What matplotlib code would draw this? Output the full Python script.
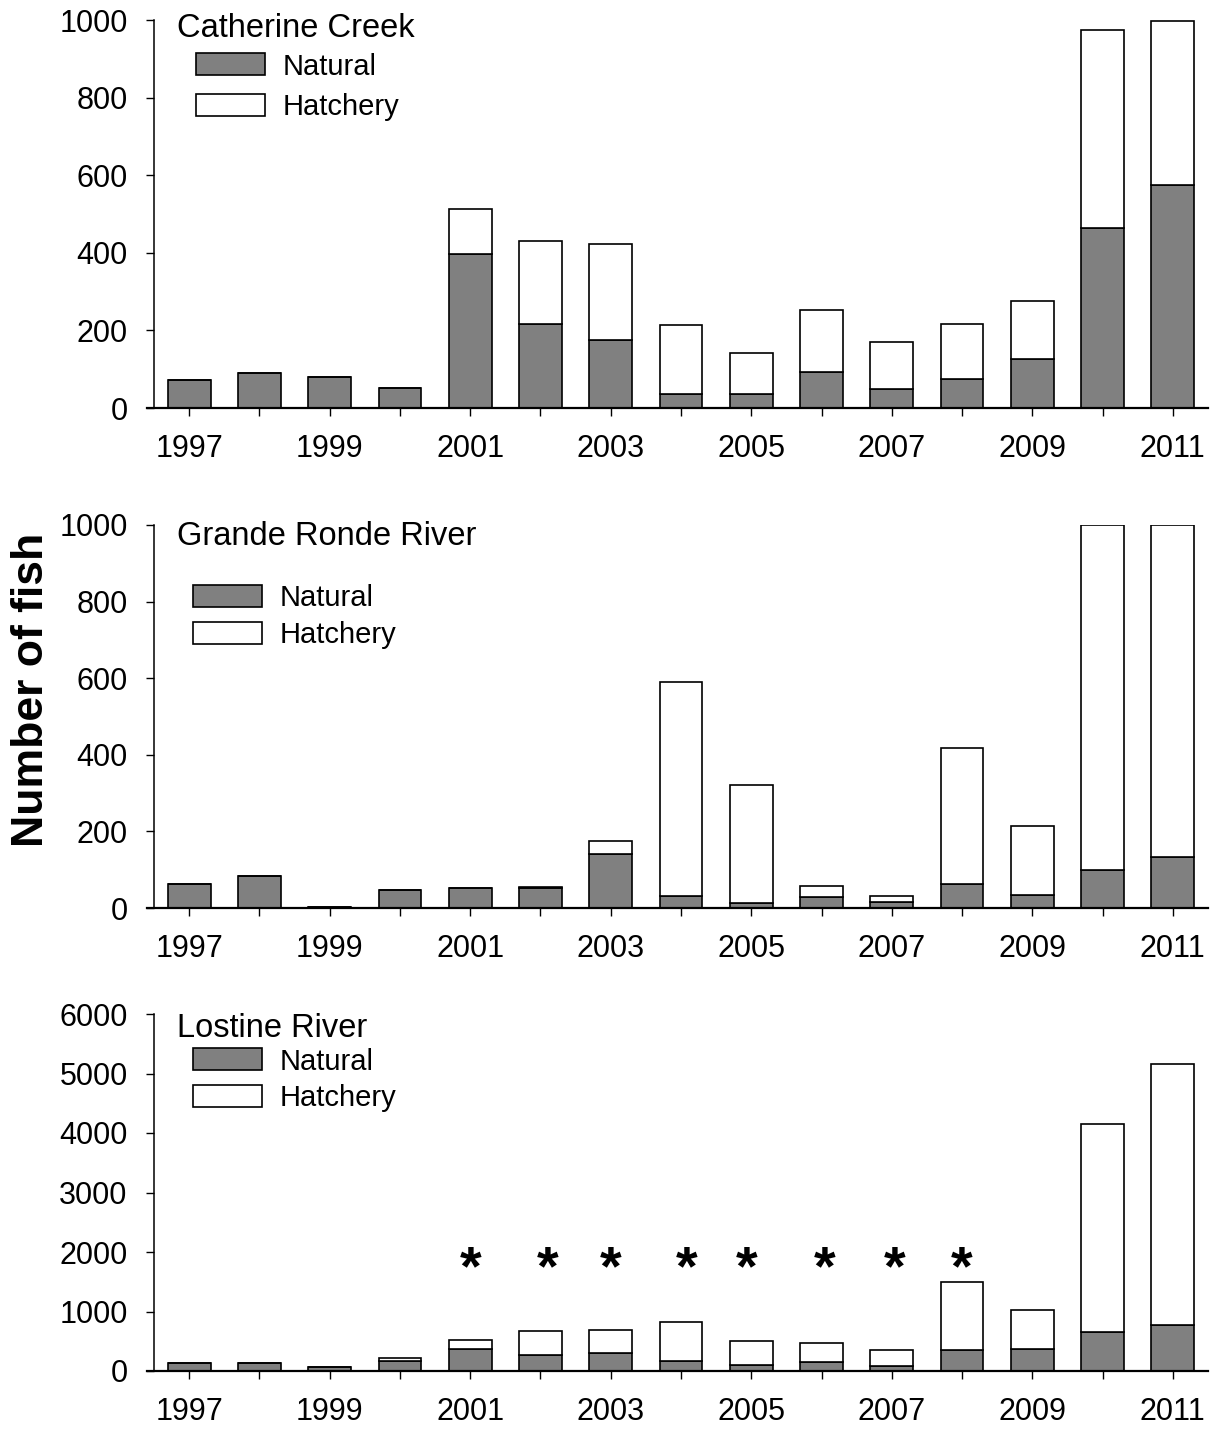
import matplotlib
matplotlib.use('Agg')
import matplotlib.pyplot as plt

plt.rcParams['font.family'] = ['Liberation Sans', 'DejaVu Sans']

years = [1997, 1998, 1999, 2000, 2001, 2002, 2003, 2004,
         2005, 2006, 2007, 2008, 2009, 2010, 2011]
tick_labels = ['1997', '', '1999', '', '2001', '', '2003', '',
               '2005', '', '2007', '', '2009', '', '2011']

# Catherine Creek
cc_natural = [72, 90, 80, 52, 398, 217, 175, 35, 35, 92, 49, 76, 126, 463, 576]
cc_hatchery = [0, 0, 0, 0, 115, 214, 247, 179, 108, 160, 121, 141, 149, 510, 422]

# Grande Ronde River
gr_natural = [63, 83, 3, 46, 51, 52, 141, 31, 14, 28, 15, 63, 33, 99, 134]
gr_hatchery = [0, 0, 0, 0, 0, 2, 35, 560, 306, 29, 16, 355, 181, 901, 866]

# Lostine River
lo_natural = [140, 140, 73, 168, 375, 263, 302, 168, 101, 151, 90, 353, 364, 655, 778]
lo_hatchery = [0, 0, 0, 56, 146, 415, 381, 661, 403, 314, 257, 1142, 661, 3496, 4382]

star_x = [2001, 2002.1, 2003, 2004.08, 2004.94, 2006.05, 2007.04, 2008]
star_y = 1460

panels = [
    ('Catherine Creek', cc_natural, cc_hatchery, [0, 200, 400, 600, 800, 1000], 1000),
    ('Grande Ronde River', gr_natural, gr_hatchery, [0, 200, 400, 600, 800, 1000], 1000),
    ('Lostine River', lo_natural, lo_hatchery, [0, 1000, 2000, 3000, 4000, 5000, 6000], 6000),
]

W, H = 1214, 1430
fig = plt.figure(figsize=(W / 100, H / 100), dpi=100)

# axes boxes in pixels: (top, bottom)
boxes = [(20, 408), (525, 908), (1014, 1371)]
left_px, right_px = 154, 1208
title_y = [0.956, 0.948, 0.936]
legend_anchor = [(0.040, 0.916), (0.037, 0.845), (0.037, 0.906)]
legend_spacing = [0.43, 0.29, 0.29]

for i, (name, nat, hat, yticks, ymax) in enumerate(panels):
    top, bot = boxes[i]
    ax = fig.add_axes([left_px / W, 1 - bot / H, (right_px - left_px) / W, (bot - top) / H])
    b1 = ax.bar(years, nat, width=0.61, color='#808080', edgecolor='black',
                linewidth=1.2, label='Natural')
    b2 = ax.bar(years, hat, width=0.61, bottom=nat, color='white', edgecolor='black',
                linewidth=1.2, label='Hatchery')
    ax.set_xlim(1996.5, 2011.5)
    ax.set_ylim(0, ymax)
    ax.set_yticks(yticks)
    ax.set_xticks(years)
    ax.set_xticklabels(tick_labels)
    ax.spines['top'].set_visible(False)
    ax.spines['right'].set_visible(False)
    ax.spines['bottom'].set_linewidth(1.6)
    ax.spines['left'].set_linewidth(1.1)
    ax.spines['bottom'].set_bounds(1996.4, 2011.5)
    ax.tick_params(axis='both', direction='out', length=5.5, width=1.0,
                   labelsize=22, pad=13.5)
    ax.text(0.022, title_y[i], name, transform=ax.transAxes, fontsize=23.5,
            va='baseline', ha='left')
    ax.legend(handles=[b1, b2], loc='upper left', bbox_to_anchor=legend_anchor[i],
              frameon=False, fontsize=21, handlelength=2.35, handleheight=0.78,
              handletextpad=0.62, labelspacing=legend_spacing[i],
              borderpad=0, borderaxespad=0)
    if name == 'Lostine River':
        for sx in star_x:
            ax.text(sx, star_y, '*', fontsize=40, fontweight='bold',
                    ha='center', va='baseline')

fig.text(32 / W, 1 - 690 / H, 'Number of fish', rotation=90, fontsize=32,
         fontweight='bold', ha='center', va='center')

fig.savefig('out.png', dpi=100)
